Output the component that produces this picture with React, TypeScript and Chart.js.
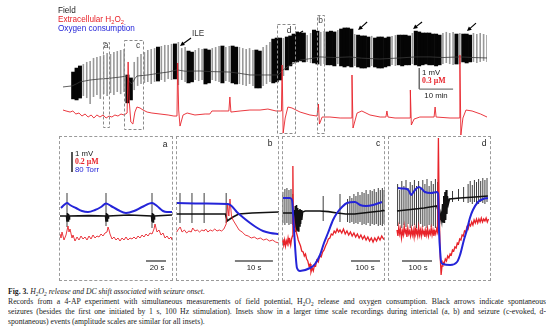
import React, { useEffect, useRef } from 'react';
import { Chart, registerables } from 'chart.js';

Chart.register(...registerables);

const SANS = '"Liberation Sans", Arial, Helvetica, sans-serif';
const SERIF = '"Liberation Serif", "Times New Roman", serif';
const RED = '#e8232a';
const BLUE = '#2424d8';

// ---------------- Overview recording (time in minutes, field in mV, H2O2 in µM)
// field envelope sampled once per minute: b = seizure burst, g = interictal spike, - = none
const fieldKind = [
  '---bbbgggg', 'gggggggggb', 'bgggggggbg', 'gggbgggbbg', 'ggbbgggbgg', 'bbgggggbbg',
  'ggbbbgbbbb', 'bbggbbggbb', 'bgbbbbgbbb', 'bgbbbbbggb', 'bbbgbbbbbb', 'bbggggbgbb', 'bggggg',
].join('');
const fieldTop: (number | null)[] = [
  null, null, null, 0.76, 0.95, 1.05, 1.14, 1.24, 1.29, 1.43,
  1.48, 1.52, 1.57, 1.67, 1.62, 1.71, 1.76, 1.81, 1.86, 0.62,
  0.48, 1.24, 1.48, 1.62, 1.71, 1.81, 1.86, 1.9, 1.95, 2.0,
  2.05, 2.05, 2.1, 2.1, 2.19, 1.9, 1.95, 1.76, 1.71, 1.81,
  1.9, 1.86, 1.86, 1.81, 1.9, 1.95, 2.0, 2.0, 1.95, 2.0,
  2.0, 1.95, 1.95, 1.9, 1.86, 1.9, 1.81, 1.81, 1.76, 1.95,
  2.05, 2.19, 2.33, 2.38, 2.38, 2.38, 2.43, 2.48, 2.57, 2.67,
  2.62, 2.62, 2.52, 2.62, 2.76, 2.71, 2.67, 2.71, 2.67, 2.71,
  2.67, 2.76, 2.81, 2.86, 2.86, 2.81, 2.57, 2.52, 2.48, 2.48,
  2.43, 2.48, 2.38, 2.43, 2.43, 2.38, 2.43, 2.48, 2.52, 2.52,
  2.52, 2.52, 2.48, 2.62, 2.71, 2.67, 2.62, 2.62, 2.62, 2.57,
  2.57, 2.52, 2.62, 2.67, 2.62, 2.67, 2.57, 2.62, 2.57, 2.57,
  2.52, 2.62, 2.57, 2.62, 2.57, 2.52,
];
const fieldBottom: (number | null)[] = [
  null, null, null, -0.52, -0.57, -0.48, -0.38, -0.48, -0.76, -0.43,
  -0.33, -0.52, -0.29, -0.38, -0.24, -0.33, -0.19, -0.29, -0.19, -0.71,
  -0.57, -0.1, 0.1, 0.19, 0.24, 0.29, 0.19, 0.29, 0.33, 0.38,
  0.29, 0.43, 0.38, 0.43, 0.14, 0.38, 0.29, 0.24, 0.29, 0.38,
  0.33, 0.38, 0.19, 0.24, 0.38, 0.33, 0.29, 0.24, 0.33, 0.29,
  0.24, 0.19, 0.19, 0.14, 0.1, 0.19, 0.1, 0, 0, 0.1,
  0.19, 0.29, 0.24, 0.29, 0.38, 0.57, 0.86, 1.05, 1.24, 1.24,
  1.29, 1.24, 1.24, 1.19, 1.19, 1.14, 1.05, 1.14, 1.1, 1.1,
  1.05, 1.14, 1.05, 1.0, 1.05, 1.0, 1.05, 1.0, 0.95, 0.95,
  1.0, 1.05, 1.0, 0.95, 0.95, 1.0, 1.05, 1.1, 1.05, 1.1,
  1.05, 1.1, 1.1, 1.14, 1.1, 1.05, 1.1, 1.14, 1.1, 1.1,
  1.05, 1.1, 1.14, 1.19, 1.14, 1.1, 1.14, 1.14, 1.24, 1.19,
  1.24, 1.24, 1.19, 1.24, 1.29, 1.24,
];
const fieldDC: [number, number][] = [
  [0, 0.05], [2.7, 0.1], [4, 0.2], [5, 0.29], [8, 0.38], [10.9, 0.43], [13, 0.45], [16.8, 0.52],
  [18.9, 0.57], [19.5, 0.3], [20.3, 0.2], [21.2, 0.45], [21.8, 0.57], [25, 0.62], [28.6, 0.71],
  [31, 0.76], [33.6, 0.86], [36, 0.8], [40.4, 0.81], [44, 0.78], [49.2, 0.76], [52, 0.7],
  [55.1, 0.62], [59.5, 0.62], [63.4, 0.62], [64.9, 0.86], [67, 1.1], [70, 1.33], [73, 1.4],
  [75.8, 1.48], [80, 1.45], [84.6, 1.48], [88, 1.42], [93.4, 1.38], [99.3, 1.43], [104, 1.48],
  [108.2, 1.48], [112, 1.45], [117, 1.48], [121, 1.45], [125, 1.43],
];
const h2o2Overview: [number, number][] = [
  [0, 0.1], [0.9, 0.086], [2.1, 0.071], [2.9, 0.086], [3.8, 0.043], [4.7, 0.057], [5.6, 0.014],
  [6.5, 0.043], [7.4, 0], [8.3, 0.029], [9.1, -0.014], [10, 0.029], [10.9, 0], [11.8, 0.029],
  [12.7, -0.014], [13.6, 0.014], [14.4, 0], [15.3, 0.029], [16.2, 0.014], [17.1, 0.043],
  [18, 0.029], [18.9, 0.057], [19.2, 0.786], [19.5, 0.243], [20, -0.071], [20.6, -0.1],
  [21.2, 0.071], [21.8, 0.143], [22.7, 0.129], [23.6, 0.1], [24.8, 0.071], [26.2, 0.057],
  [28.6, 0.043], [31, 0.029], [32.7, 0.014], [33.6, 0.014], [33.8, 0.771], [34.1, 0.1],
  [34.5, -0.129], [35.4, 0.029], [36.6, 0.057], [38.9, 0.029], [41.9, 0.043], [43.3, 0.043],
  [43.9, 0.086], [46.3, 0.086], [48.9, 0.086], [49.2, 0.286], [49.5, 0.071], [52.2, 0.086],
  [55.1, 0.1], [58.1, 0.1], [60.4, 0.114], [62.8, 0.086], [64.4, 0.086], [64.6, 0.743],
  [64.9, -0.229], [65.5, -0.014], [66.3, 0.143], [67.5, 0.129], [69.9, 0.071], [72.8, 0.029],
  [74.9, 0.014], [75.3, 0.186], [75.6, -0.1], [76.4, 0], [78.7, 0], [81.7, -0.014], [85.1, -0.014],
  [85.2, 0.6], [85.5, -0.157], [86.7, 0.057], [88.1, 0.086], [90.5, 0.029], [93.5, 0], [95.2, 0],
  [95.5, 0.086], [95.8, 0], [97.9, -0.014], [102.3, -0.014], [102.4, 0.386], [102.7, -0.114],
  [103.5, -0.029], [105.2, 0], [109.4, 0], [109.7, 0.143], [110, 0], [114.1, -0.014],
  [116.9, -0.014], [117, 0.886], [117.3, -0.257], [117.9, -0.014], [118.8, 0.1], [120.6, 0.086],
  [123.1, 0.043], [125, 0],
];

// ---------------- Insets (time in s, field in mV, H2O2 in µM, pO2 in Torr)
const insetA = {
  pO2: [[2, 272], [5, 284], [8, 292], [11, 284], [17, 272], [23, 260], [29, 256], [36, 264], [42, 276],
    [47, 290], [52, 280], [59, 264], [67, 252], [75, 260], [83, 276], [93, 292], [98, 280], [104, 260],
    [108, 256], [113, 256]] as [number, number][],
  field: [[1, 0], [7.5, 0], [8, -0.25], [8.5, 0.15], [9, -0.25], [9.5, 0.1], [10, -0.15], [10.5, 0], [30, 0.02],
    [46.5, 0], [47, -0.25], [47.5, 0.15], [48, -0.25], [48.5, 0.1], [49, -0.1], [49.5, 0], [70, 0.05],
    [92.5, 0], [93, -0.25], [93.5, 0.15], [94, -0.3], [94.5, 0.1], [95, -0.15], [95.5, 0], [113, 0.05]] as [number, number][],
  spikes: [[8, -0.55, 1.15], [47, -0.5, 1.15], [93, -0.6, 1.15]] as [number, number, number][],
  h2o2: [[1, 0.42], [2, 0.38], [3, 0.44], [5, 0.36], [7, 0.41], [9, 0.5], [10, 0.44], [11, 0.47], [13, 0.38],
    [14, 0.41], [16, 0.35], [18, 0.39], [20, 0.36], [22, 0.4], [24, 0.37], [26, 0.39], [28, 0.36], [30, 0.4],
    [32, 0.37], [34, 0.41], [36, 0.38], [38, 0.4], [40, 0.39], [42, 0.42], [44, 0.4], [46, 0.43], [48, 0.44],
    [49, 0.49], [50, 0.46], [51, 0.42], [53, 0.37], [55, 0.39], [57, 0.36], [59, 0.38], [61, 0.35], [63, 0.38],
    [65, 0.36], [67, 0.39], [69, 0.36], [71, 0.38], [73, 0.37], [75, 0.39], [77, 0.37], [79, 0.4], [81, 0.38],
    [83, 0.41], [85, 0.39], [87, 0.42], [89, 0.4], [91, 0.43], [93, 0.42], [95, 0.47], [96, 0.52], [97, 0.48],
    [98, 0.44], [100, 0.46], [102, 0.41], [104, 0.43], [106, 0.38], [108, 0.4], [110, 0.37], [112, 0.39],
    [113, 0.36]] as [number, number][],
};
const insetB = {
  pO2: [[0.2, 292], [7, 290], [13.5, 288], [14.3, 284], [15, 274], [16, 256], [17.5, 236], [19.5, 212],
    [21.2, 194], [22.9, 180], [24.8, 172], [27.1, 168]] as [number, number][],
  field: [[0.2, 0.1], [13, 0.1], [13.5, -0.25], [14.2, -0.15], [15, -0.05], [16.5, 0.1], [20, 0.15],
    [27.1, 0.2]] as [number, number][],
  spikes: [[1.05, -0.35, 1.15], [4.2, -0.35, 1.15], [7.4, -0.35, 1.15], [13.2, -0.35, 1.15]] as [number, number, number][],
  h2o2: [[0.2, 0.44], [0.5, 0.46], [1.1, 0.49], [1.6, 0.44], [2.2, 0.46], [2.8, 0.43], [3.4, 0.45], [4, 0.44],
    [4.4, 0.48], [5, 0.45], [5.6, 0.46], [6.2, 0.44], [6.8, 0.46], [7.4, 0.45], [7.8, 0.47], [8.4, 0.44],
    [9, 0.46], [9.6, 0.45], [10.2, 0.47], [10.8, 0.45], [11.4, 0.46], [12, 0.45], [12.6, 0.47], [13.2, 0.52],
    [13.6, 0.71], [13.9, 0.6], [14.2, 0.77], [14.6, 0.6], [15, 0.56], [15.8, 0.51], [16.6, 0.46], [17.4, 0.44],
    [18.2, 0.41], [19, 0.4], [19.8, 0.38], [20.6, 0.39], [21.4, 0.37], [22.2, 0.38], [23, 0.36], [23.8, 0.37],
    [24.6, 0.35], [25.4, 0.36], [26.2, 0.34], [27, 0.33]] as [number, number][],
};
const insetC = {
  pO2: [[3.4, 312], [27.6, 312], [34.5, 304], [41.4, 184], [51.7, 32], [62, 20], [96.6, 32], [113.8, 48],
    [131, 84], [144.8, 132], [158.6, 172], [175.9, 224], [189.7, 252], [206.9, 276], [224, 292], [251.7, 296],
    [269, 284], [289.7, 280], [313.8, 284], [344.8, 296]] as [number, number][],
  field: [[3, 0.15], [38, 0.15], [40, -0.3], [42, 0.3], [44, -0.6], [46, 0.5], [48, -0.8], [50, 0.55],
    [52, -0.7], [54, 0.4], [56, -0.75], [58, 0.3], [60, -0.5], [62, 0.35], [64, -0.4], [66, 0.3], [68, -0.2],
    [71, 0.2], [80, 0.25], [100, 0.25], [130, 0.25], [160, 0.22], [190, 0.15], [220, 0.1], [250, 0.1],
    [280, 0.15], [310, 0.2], [340, 0.25], [354, 0.28]] as [number, number][],
  spikes: [[3, -0.35, 1.2], [10, -0.45, 1.35], [17, -0.35, 1.4], [24, -0.45, 1.3], [31, -0.4, 1.35],
    [37, -0.45, 1.1], [142, -0.25, 1.0], [200, -0.3, 1.1], [226, -0.3, 0.85], [234, -0.35, 1.0],
    [241, -0.3, 0.9], [248, -0.4, 1.1], [255, -0.35, 1.0], [262, -0.4, 1.2], [269, -0.3, 1.05],
    [276, -0.45, 1.2], [283, -0.4, 1.15], [290, -0.45, 1.3], [297, -0.35, 1.1], [304, -0.5, 1.3],
    [311, -0.4, 1.25], [318, -0.45, 1.35], [325, -0.4, 1.2], [332, -0.5, 1.4], [339, -0.45, 1.3],
    [346, -0.5, 1.4], [352, -0.4, 1.3]] as [number, number, number][],
  h2o2: [[1, 0.33], [3, 0.37], [6, 0.31], [9, 0.36], [12, 0.3], [15, 0.35], [18, 0.32], [21, 0.38], [24, 0.33],
    [27, 0.36], [30, 0.31], [33, 0.37], [36, 0.4], [37.5, 1.1], [39, 0.62], [41.4, 0.56], [45, 0.48],
    [49, 0.44], [53, 0.4], [56, 0.36], [60, 0.33], [64, 0.3], [68, 0.25], [73, 0.24], [77, 0.2], [81, 0.22],
    [85, 0.17], [89, 0.15], [93, 0.1], [97, 0.12], [100, 0.04], [104, 0.08], [108, 0.05], [112, 0.11],
    [116, 0.1], [120, 0.16], [125, 0.14], [130, 0.2], [135, 0.19], [140, 0.24], [145, 0.26], [150, 0.3],
    [155, 0.33], [160, 0.37], [165, 0.38], [170, 0.42], [175, 0.41], [180, 0.45], [185, 0.43], [190, 0.47],
    [195, 0.44], [200, 0.46], [206, 0.43], [212, 0.47], [218, 0.42], [224, 0.45], [230, 0.41], [236, 0.44],
    [242, 0.4], [248, 0.43], [254, 0.39], [260, 0.42], [266, 0.38], [272, 0.41], [278, 0.37], [284, 0.4],
    [290, 0.36], [296, 0.39], [302, 0.35], [308, 0.38], [314, 0.34], [320, 0.38], [326, 0.35], [332, 0.39],
    [338, 0.36], [344, 0.4], [350, 0.37], [354, 0.38]] as [number, number][],
};
const insetD = {
  pO2: [[33, 352], [50, 350], [63, 348], [70, 340], [77, 324], [84, 334], [90, 344], [103, 356], [113, 348],
    [123, 336], [143, 332], [163, 336], [167, 330], [170, 184], [175, 80], [177, 56], [183, 48], [207, 44],
    [230, 56], [240, 84], [253, 144], [263, 184], [273, 232], [283, 264], [300, 296], [317, 308],
    [333, 312]] as [number, number][],
  field: [[30, 0.25], [60, 0.3], [90, 0.35], [120, 0.4], [140, 0.45], [163, 0.5], [168, 0.2], [172, -0.3],
    [176, 0.1], [179, -0.2], [182, 0.6], [184, -0.3], [186, 1.0], [188, -0.35], [190, 1.2], [192, -0.2],
    [194, 1.3], [196, 0.1], [198, 1.0], [201, 0.6], [205, 0.85], [240, 0.9], [290, 0.95],
    [333, 1.0]] as [number, number][],
  spikes: [[32, -0.5, 1.6], [39, -0.4, 1.3], [46, -0.6, 1.75], [53, -0.45, 1.5], [60, -0.55, 1.8],
    [67, -0.4, 1.4], [74, -0.6, 1.7], [81, -0.5, 1.55], [88, -0.45, 1.8], [95, -0.6, 1.5], [102, -0.5, 1.75],
    [109, -0.4, 1.45], [116, -0.55, 1.8], [123, -0.5, 1.6], [130, -0.6, 1.85], [137, -0.45, 1.5],
    [144, -0.55, 1.75], [151, -0.5, 1.6], [158, -0.6, 1.85], [165, -0.5, 1.7], [215, 0.7, 1.25],
    [235, 0.75, 1.35], [252, 0.7, 1.45], [267, 0.65, 1.6], [274, 0.7, 1.75], [281, 0.6, 1.55],
    [288, 0.7, 1.8], [295, 0.65, 1.7], [302, 0.6, 1.85], [309, 0.7, 1.75], [316, 0.65, 1.9],
    [323, 0.6, 1.8], [330, 0.7, 1.9]] as [number, number, number][],
  h2o2: [[30, 0.46], [33, 0.4], [36, 0.49], [39, 0.42], [42, 0.47], [45, 0.38], [48, 0.45], [51, 0.41],
    [54, 0.5], [57, 0.43], [60, 0.46], [63, 0.39], [66, 0.48], [69, 0.42], [72, 0.45], [75, 0.4], [78, 0.47],
    [81, 0.41], [84, 0.46], [87, 0.39], [90, 0.48], [93, 0.42], [96, 0.45], [99, 0.4], [102, 0.49],
    [105, 0.41], [108, 0.46], [111, 0.4], [114, 0.47], [117, 0.42], [120, 0.45], [123, 0.39], [126, 0.46],
    [129, 0.41], [132, 0.47], [135, 0.4], [138, 0.45], [141, 0.42], [144, 0.48], [147, 0.41], [150, 0.46],
    [153, 0.4], [156, 0.45], [159, 0.42], [162, 0.47], [165, 0.44], [168, 1.38], [170, 0.8], [174, 0.2],
    [177, 0.01], [180, 0.1], [183, 0.14], [187, 0.12], [191, 0.17], [195, 0.15], [199, 0.2], [203, 0.18],
    [207, 0.22], [211, 0.21], [215, 0.26], [219, 0.25], [223, 0.29], [227, 0.28], [231, 0.33], [235, 0.32],
    [239, 0.37], [243, 0.36], [247, 0.41], [251, 0.4], [255, 0.45], [259, 0.44], [263, 0.49], [267, 0.47],
    [271, 0.52], [275, 0.5], [279, 0.54], [283, 0.51], [287, 0.56], [291, 0.53], [295, 0.57], [299, 0.53],
    [303, 0.57], [307, 0.54], [311, 0.58], [315, 0.54], [319, 0.57], [323, 0.55], [327, 0.58], [331, 0.54],
    [335, 0.57]] as [number, number][],
};

// ---------------- annotation plugin (positions resolved through the chart scales)
type Box = { x0: number; x1: number; y0: number; y1: number };
type Seg = { x0: number; y0: number; x1: number; y1: number; axis: string; color: string; width: number };
type Arrow = { x: number; y: number; dx: number; dy: number };
function annotations(cfg: { boxes?: Box[]; segs?: Seg[]; arrows?: Arrow[] }) {
  return {
    id: 'ann',
    afterDatasetsDraw(chart: any) {
      const ctx = chart.ctx;
      const xs = chart.scales.x;
      ctx.save();
      (cfg.boxes || []).forEach((b) => {
        const ys = chart.scales.y;
        const x0 = Math.round(xs.getPixelForValue(b.x0)) + 0.5;
        const x1 = Math.round(xs.getPixelForValue(b.x1)) + 0.5;
        const yTop = Math.round(ys.getPixelForValue(b.y1)) + 0.5;
        const yBot = Math.round(ys.getPixelForValue(b.y0)) + 0.5;
        ctx.setLineDash([3, 2]);
        ctx.strokeStyle = '#8a8a8a';
        ctx.lineWidth = 1;
        ctx.strokeRect(x0, yTop, x1 - x0, yBot - yTop);
      });
      ctx.setLineDash([]);
      (cfg.segs || []).forEach((s) => {
        const ys = chart.scales[s.axis];
        ctx.beginPath();
        ctx.strokeStyle = s.color;
        ctx.lineWidth = s.width;
        ctx.moveTo(xs.getPixelForValue(s.x0), ys.getPixelForValue(s.y0));
        ctx.lineTo(xs.getPixelForValue(s.x1), ys.getPixelForValue(s.y1));
        ctx.stroke();
      });
      (cfg.arrows || []).forEach((a) => {
        const ys = chart.scales.y;
        const tx = xs.getPixelForValue(a.x);
        const ty = ys.getPixelForValue(a.y);
        const len = Math.hypot(a.dx, a.dy);
        const ux = a.dx / len, uy = a.dy / len;
        ctx.strokeStyle = '#000';
        ctx.fillStyle = '#000';
        ctx.lineWidth = 1.1;
        ctx.beginPath();
        ctx.moveTo(tx + a.dx, ty + a.dy);
        ctx.lineTo(tx + ux * 3, ty + uy * 3);
        ctx.stroke();
        ctx.beginPath();
        ctx.moveTo(tx, ty);
        ctx.lineTo(tx + ux * 4.5 - uy * 2.2, ty + uy * 4.5 + ux * 2.2);
        ctx.lineTo(tx + ux * 4.5 + uy * 2.2, ty + uy * 4.5 - ux * 2.2);
        ctx.closePath();
        ctx.fill();
      });
      ctx.restore();
    },
  };
}

const pts = (arr: [number, number][]) => arr.map(([x, y]) => ({ x, y }));

function overviewConfig(): any {
  const blocks: any[] = [];
  const spikes: any[] = [];
  for (let i = 0; i < fieldKind.length; i++) {
    const k = fieldKind[i];
    if (k === '-') continue;
    const p = { x: i, y: [fieldBottom[i], fieldTop[i]] };
    if (k === 'b') blocks.push(p);
    else spikes.push(p);
  }
  return {
    type: 'bar',
    data: {
      datasets: [
        { type: 'line', data: pts(h2o2Overview), yAxisID: 'y2', borderColor: RED, borderWidth: 0.9, pointRadius: 0, order: 0 },
        { type: 'line', data: pts(fieldDC), yAxisID: 'y', borderColor: '#3a3a3a', borderWidth: 0.8, pointRadius: 0, order: 1 },
        { type: 'bar', data: blocks, yAxisID: 'y', backgroundColor: '#050505', grouped: false, categoryPercentage: 1, barPercentage: 1, maxBarThickness: 3.6, inflateAmount: 0.3, order: 2 },
        { type: 'bar', data: spikes, yAxisID: 'y', backgroundColor: '#999999', grouped: false, categoryPercentage: 1, barPercentage: 1, maxBarThickness: 1.6, inflateAmount: 0, order: 3 },
      ],
    },
    options: {
      responsive: false,
      animation: false,
      events: [],
      layout: { padding: { left: 63, right: 67, top: 0, bottom: 0 } },
      plugins: { legend: { display: false }, tooltip: { enabled: false } },
      scales: {
        x: { type: 'linear', min: 0, max: 125, offset: false, display: false },
        y: { type: 'linear', min: -2.286, max: 4.19, display: false },
        y2: { type: 'linear', min: -0.271, max: 1.671, display: false },
      },
    },
    plugins: [
      annotations({
        boxes: [
          { x0: 11.8, x1: 13.6, y0: -1.86, y1: 2.19 },
          { x0: 18.0, x1: 23.6, y0: -1.95, y1: 2.29 },
          { x0: 63.1, x1: 68.4, y0: -2.14, y1: 3.05 },
          { x0: 74.9, x1: 77.0, y0: -2.14, y1: 3.48 },
        ],
        segs: [
          { x0: 105, y0: -0.05, x1: 105, y1: 0.95, axis: 'y', color: '#222', width: 1 },
          { x0: 105, y0: -0.05, x1: 115, y1: -0.05, axis: 'y', color: '#777', width: 1.2 },
        ],
        arrows: [
          { x: 34.5, y: 2.0, dx: 11, dy: -8 },
          { x: 68.4, y: 2.48, dx: 8, dy: -5 },
          { x: 87.0, y: 2.76, dx: 9, dy: -8 },
          { x: 103.2, y: 2.81, dx: 9, dy: -7 },
          { x: 119.1, y: 2.71, dx: 9, dy: -8 },
        ],
      }),
    ],
  };
}

type Inset = {
  pO2: [number, number][];
  field: [number, number][];
  spikes: [number, number, number][];
  h2o2: [number, number][];
};
function insetConfig(d: Inset, xMax: number, redWidth: number, segs: Seg[]): any {
  return {
    type: 'bar',
    data: {
      datasets: [
        { type: 'line', data: pts(d.pO2), yAxisID: 'y3', borderColor: BLUE, borderWidth: 2, pointRadius: 0, cubicInterpolationMode: 'monotone', order: 0 },
        { type: 'line', data: pts(d.h2o2), yAxisID: 'y2', borderColor: RED, borderWidth: redWidth, pointRadius: 0, order: 1 },
        { type: 'line', data: pts(d.field), yAxisID: 'y', borderColor: '#111', borderWidth: 1.6, pointRadius: 0, order: 2 },
        { type: 'bar', data: d.spikes.map(([x, lo, hi]) => ({ x, y: [lo, hi] })), yAxisID: 'y', backgroundColor: '#3c3c3c', grouped: false, maxBarThickness: 1, order: 3 },
      ],
    },
    options: {
      responsive: false,
      animation: false,
      events: [],
      layout: { padding: 0 },
      plugins: { legend: { display: false }, tooltip: { enabled: false } },
      scales: {
        x: { type: 'linear', min: 0, max: xMax, offset: false, display: false },
        y: { type: 'linear', min: -3.25, max: 4.0, display: false },
        y2: { type: 'linear', min: -0.05, max: 1.4, display: false },
        y3: { type: 'linear', min: -20, max: 560, display: false },
      },
    },
    plugins: [annotations({ segs })],
  };
}

function ChartBox(props: { left: number; top: number; width: number; height: number; make: () => any; dashed?: boolean }) {
  const ref = useRef<HTMLCanvasElement>(null);
  useEffect(() => {
    const chart = new Chart(ref.current as HTMLCanvasElement, props.make());
    return () => chart.destroy();
  }, []);
  const { left, top, width, height } = props;
  return (
    <>
      <canvas ref={ref} width={width} height={height}
        style={{ position: 'absolute', left, top, width, height }} />
      {props.dashed && (
        <div style={{ position: 'absolute', left, top, width, height, boxSizing: 'border-box', border: '1px dashed #9a9a9a', pointerEvents: 'none' }} />
      )}
    </>
  );
}

function T(p: { x: number; y: number; children: any; color?: string; size?: number; align?: 'left' | 'center'; font?: string; weight?: number }) {
  return (
    <div style={{
      position: 'absolute', left: p.x, top: p.y,
      transform: `translate(${p.align === 'center' ? '-50%' : '0'}, -50%)`,
      color: p.color || '#222', fontSize: p.size || 8.2, fontFamily: p.font || SANS,
      fontWeight: p.weight || 400, lineHeight: 1, whiteSpace: 'nowrap',
    }}>{p.children}</div>
  );
}

const Sub = ({ children }: { children: any }) => (
  <span style={{ fontSize: '0.7em', verticalAlign: '-0.3em', lineHeight: 0 }}>{children}</span>
);

const barGrey = '#808080';

export default function App() {
  const capStyle: any = {
    position: 'absolute', left: 8, width: 538, fontFamily: SERIF, fontSize: 7.7, color: '#222',
    lineHeight: '9px', whiteSpace: 'nowrap',
  };
  const justified: any = { ...capStyle, whiteSpace: 'normal', textAlign: 'justify', textAlignLast: 'justify', height: 9, overflow: 'hidden' };
  return (
    <div style={{ position: 'absolute', left: 0, top: 0, width: 554, height: 333, background: '#fff', overflow: 'hidden' }}>
      <ChartBox left={0} top={0} width={554} height={136} make={overviewConfig} />

      <T x={58} y={11}>Field</T>
      <T x={58} y={20} color={RED}>Extracellular H<Sub>2</Sub>O<Sub>2</Sub></T>
      <T x={58} y={29} color={BLUE}>Oxygen consumption</T>
      <T x={106} y={45} align="center" color="#444" size={8.5}>a</T>
      <T x={138} y={45} align="center" color="#444" size={8.5}>c</T>
      <T x={192} y={34} color="#333">ILE</T>
      <T x={289} y={30} align="center" color="#333" size={8.5}>d</T>
      <T x={320.5} y={20} align="center" color="#444" size={8.5}>b</T>
      <T x={422} y={73} size={7.8}>1 mV</T>
      <T x={422} y={81} size={7.8} color={RED} font={SERIF} weight={700}>0.3 µM</T>
      <T x={436} y={96} align="center" size={7.8}>10 min</T>

      <ChartBox left={59} top={136} width={114} height={145} dashed
        make={() => insetConfig(insetA, 114, 0.9, [
          { x0: 13, y0: 2.2, x1: 13, y1: 3.2, axis: 'y', color: '#555', width: 2 },
          { x0: 87, y0: -2.25, x1: 107, y1: -2.25, axis: 'y', color: barGrey, width: 2 },
        ])} />
      <ChartBox left={176} top={136} width={103} height={145} dashed
        make={() => insetConfig(insetB, 27.1, 0.9, [
          { x0: 15.5, y0: -2.25, x1: 25.5, y1: -2.25, axis: 'y', color: barGrey, width: 2 },
        ])} />
      <ChartBox left={282} top={136} width={103} height={145} dashed
        make={() => insetConfig(insetC, 355.2, 1.3, [
          { x0: 238, y0: -2.25, x1: 338, y1: -2.25, axis: 'y', color: barGrey, width: 2 },
        ])} />
      <ChartBox left={388} top={136} width={103} height={145} dashed
        make={() => insetConfig(insetD, 343.3, 1.3, [
          { x0: 46.7, y0: -2.25, x1: 146.7, y1: -2.25, axis: 'y', color: barGrey, width: 2 },
        ])} />

      <T x={165} y={144} align="center" size={8.5}>a</T>
      <T x={75} y={154} size={7.8}>1 mV</T>
      <T x={75} y={162} size={7.8} color={RED} font={SERIF} weight={700}>0.2 µM</T>
      <T x={75} y={170} size={7.8} color={BLUE}>80 Torr</T>
      <T x={157} y={268} align="center" size={7.8}>20 s</T>
      <T x={270} y={143} align="center" size={8.5}>b</T>
      <T x={254} y={268} align="center" size={7.8}>10 s</T>
      <T x={378} y={143} align="center" size={8.5}>c</T>
      <T x={365} y={268} align="center" size={7.8}>100 s</T>
      <T x={484} y={143} align="center" size={8.5}>d</T>
      <T x={418} y={268} align="center" size={7.8}>100 s</T>

      <div style={{ ...capStyle, top: 286.5 }}>
        <b>Fig. 3.</b> <i>H<Sub>2</Sub>O<Sub>2</Sub> release and DC shift associated with seizure onset.</i>
      </div>
      <div style={{ ...justified, top: 297 }}>
        Records from a 4-AP experiment with simultaneous measurements of field potential, H<Sub>2</Sub>O<Sub>2</Sub> release and oxygen consumption. Black arrows indicate spontaneous
      </div>
      <div style={{ ...justified, top: 307 }}>
        seizures (besides the first one initiated by 1 s, 100 Hz stimulation). Insets show in a larger time scale recordings during interictal (a, b) and seizure (c-evoked, d-
      </div>
      <div style={{ ...capStyle, top: 317 }}>
        spontaneous) events (amplitude scales are similar for all insets).
      </div>
    </div>
  );
}
